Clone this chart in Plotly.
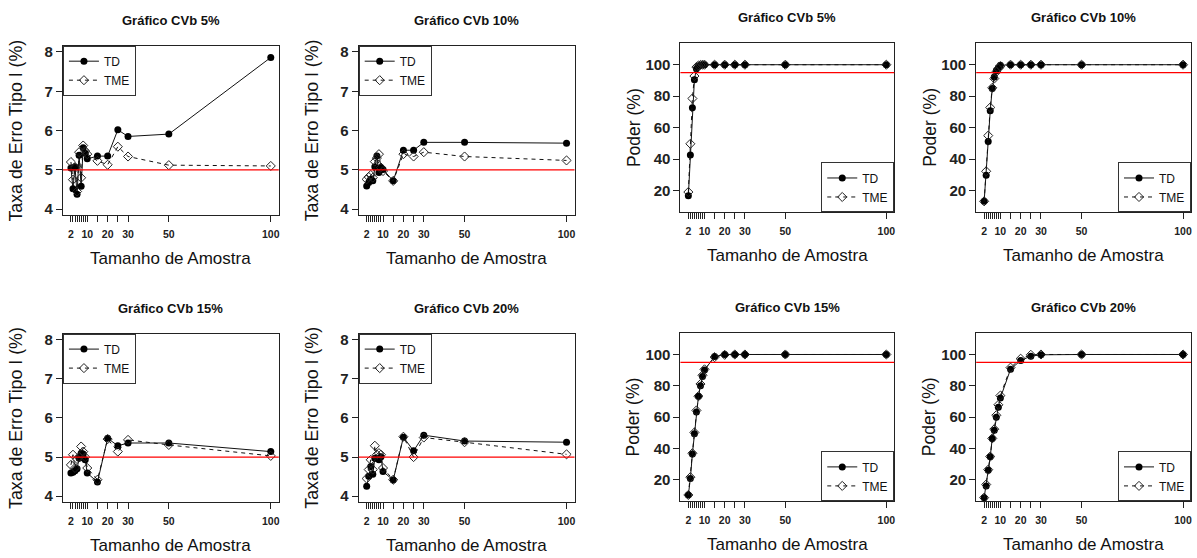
import plotly.graph_objects as go

# ---------------- data ----------------
n = [2, 3, 4, 5, 6, 7, 8, 9, 10, 15, 20, 25, 30, 50, 100]
x_tick_vals = [2, 3, 4, 5, 6, 7, 8, 9, 10, 15, 20, 25, 30, 50, 100]
x_tick_text = ["2", "", "", "", "", "", "", "", "10", "", "20", "", "30", "50", "100"]
err_ticks = [4, 5, 6, 7, 8]
pow_ticks = [20, 40, 60, 80, 100]
err_ref = 5
pow_ref = 95

err5_td = [5.05, 4.52, 5.08, 4.38, 5.37, 4.58, 5.56, 5.42, 5.28, 5.35, 5.35, 6.02, 5.85, 5.91, 7.86]
err5_tme = [5.20, 4.75, 5.05, 4.45, 5.45, 4.80, 5.62, 5.48, 5.40, 5.23, 5.13, 5.59, 5.34, 5.12, 5.10]
err10_td = [4.59, 4.68, 4.76, 4.72, 5.08, 5.35, 4.93, 5.06, 5.01, 4.72, 5.50, 5.50, 5.70, 5.70, 5.68]
err10_tme = [4.76, 4.82, 4.87, 4.80, 5.21, 5.30, 5.40, 5.06, 4.97, 4.72, 5.40, 5.34, 5.45, 5.34, 5.24]
err15_td = [4.59, 4.61, 4.65, 4.70, 4.97, 5.10, 5.08, 4.93, 4.59, 4.36, 5.48, 5.29, 5.36, 5.36, 5.14]
err15_tme = [4.80, 5.06, 4.72, 4.95, 5.00, 5.27, 5.14, 5.00, 4.72, 4.42, 5.46, 5.14, 5.44, 5.31, 5.03]
err20_td = [4.25, 4.51, 4.76, 4.56, 4.97, 4.97, 4.93, 5.01, 4.63, 4.41, 5.51, 5.16, 5.56, 5.41, 5.38]
err20_tme = [4.45, 4.68, 4.93, 4.68, 5.29, 5.06, 5.10, 5.06, 4.72, 4.42, 5.52, 5.00, 5.50, 5.38, 5.07]

pow5_td = [16.6, 42.5, 72.6, 90.5, 97.5, 99.2, 99.6, 99.9, 100, 100, 100, 100, 100, 100, 100]
pow5_tme = [19.0, 49.7, 78.5, 92.8, 98.5, 99.5, 99.8, 100, 100, 100, 100, 100, 100, 100, 100]
pow10_td = [13.1, 29.7, 51.2, 70.7, 84.8, 92.2, 96.2, 98.3, 99.6, 100, 100, 100, 100, 100, 100]
pow10_tme = [13.1, 32.2, 54.9, 72.8, 85.3, 91.2, 95.4, 97.6, 99.0, 100, 100, 100, 100, 100, 100]
pow15_td = [10.1, 20.6, 36.4, 49.3, 63.2, 73.3, 80.0, 85.9, 90.1, 98.7, 100, 100, 100, 100, 100]
pow15_tme = [10.1, 21.5, 36.8, 50.1, 64.2, 73.3, 81.1, 86.7, 90.5, 98.3, 99.8, 100, 100, 100, 100]
pow20_td = [8.4, 15.8, 25.9, 34.5, 46.3, 51.6, 59.8, 66.3, 72.2, 90.5, 96.2, 98.9, 99.8, 100, 100]
pow20_tme = [8.4, 16.8, 26.3, 34.7, 46.3, 52.2, 61.1, 67.8, 73.7, 91.6, 97.3, 99.8, 100, 100, 100]

titles = ["Gráfico CVb 5%", "Gráfico CVb 10%", "Gráfico CVb 5%", "Gráfico CVb 10%",
          "Gráfico CVb 15%", "Gráfico CVb 20%", "Gráfico CVb 15%", "Gráfico CVb 20%"]
kinds = ["err", "err", "pow", "pow", "err", "err", "pow", "pow"]
td_series = [err5_td, err10_td, pow5_td, pow10_td, err15_td, err20_td, pow15_td, pow20_td]
tme_series = [err5_tme, err10_tme, pow5_tme, pow10_tme, err15_tme, err20_tme, pow15_tme, pow20_tme]

# ---------------- layout ----------------
W, H = 1197, 558
FONT = "Liberation Sans, Arial, sans-serif"
# plot boxes in pixels: left, right, top, bottom
boxes = [(63, 279, 44, 215), (359, 575, 44, 215), (681, 895, 41, 212), (977, 1192, 41, 212),
         (63, 279, 334, 504), (359, 575, 334, 504), (681, 895, 333, 503), (977, 1192, 333, 503)]

def px(x):
    return x / W

def py(y):
    return 1 - y / H

fig = go.Figure()
annotations = []
shapes = []
layout = {}

for i in range(8):
    k = i + 1
    sx = "" if k == 1 else str(k)
    xa, ya = "x" + sx, "y" + sx
    lg = "legend" + sx
    l, r, t, b = boxes[i]
    kind = kinds[i]

    fig.add_trace(go.Scatter(
        x=n, y=td_series[i], mode="lines+markers", name="TD",
        line=dict(color="#111111", width=1),
        marker=dict(symbol="circle", size=7, color="#000000"),
        xaxis=xa, yaxis=ya, legend=lg, cliponaxis=False))
    fig.add_trace(go.Scatter(
        x=n, y=tme_series[i], mode="lines+markers", name="TME",
        line=dict(color="#111111", width=1, dash="4px,4px"),
        marker=dict(symbol="diamond-open", size=7, color="#222222", line=dict(width=1)),
        xaxis=xa, yaxis=ya, legend=lg, cliponaxis=False))

    layout["xaxis" + sx] = dict(
        domain=[px(l), px(r)], anchor=ya, range=[-1.92, 103.92],
        tickmode="array", tickvals=x_tick_vals, ticktext=x_tick_text,
        ticks="outside", ticklen=6, tickwidth=1, tickcolor="#222",
        showline=True, linecolor="#222", linewidth=1, mirror=True,
        showgrid=False, zeroline=False,
        tickfont=dict(family=FONT, size=10.5, color="#222", weight="bold"),
        ticklabelstandoff=3)
    if kind == "err":
        yr, yt = [3.84, 8.16], err_ticks
    else:
        yr, yt = [6, 114], pow_ticks
    layout["yaxis" + sx] = dict(
        domain=[py(b), py(t)], anchor=xa, range=yr,
        tickmode="array", tickvals=yt,
        ticks="outside", ticklen=6, tickwidth=1, tickcolor="#222",
        showline=True, linecolor="#222", linewidth=1, mirror=True,
        showgrid=False, zeroline=False,
        tickfont=dict(family=FONT, size=15, color="#222", weight="bold"))

    if kind == "err":
        layout[lg] = dict(x=px(l), y=py(t), xanchor="left", yanchor="top",
                          xref="paper", yref="paper")
    else:
        layout[lg] = dict(x=px(r), y=py(b), xanchor="right", yanchor="bottom",
                          xref="paper", yref="paper")
    layout[lg].update(bgcolor="white", bordercolor="#333", borderwidth=1,
                      font=dict(family=FONT, size=12, color="#111"),
                      itemwidth=30, tracegroupgap=0)

    ref = err_ref if kind == "err" else pow_ref
    shapes.append(dict(type="line", xref=xa + " domain", yref=ya,
                       x0=0, x1=1, y0=ref, y1=ref,
                       line=dict(color="#FF0000", width=1.3)))

    cx = px((l + r) / 2)
    annotations.append(dict(text="<b>" + titles[i] + "</b>", x=cx, y=py(t - 25),
                            xref="paper", yref="paper", showarrow=False,
                            xanchor="center", yanchor="middle",
                            font=dict(family=FONT, size=13, color="#111")))
    annotations.append(dict(text="Tamanho de Amostra", x=cx, y=py(b + 43),
                            xref="paper", yref="paper", showarrow=False,
                            xanchor="center", yanchor="middle",
                            font=dict(family=FONT, size=17, color="#111")))
    if kind == "err":
        ytitle, ysize = "Taxa de Erro Tipo I (%)", 17.8
    else:
        ytitle, ysize = "Poder (%)", 17.5
    annotations.append(dict(text=ytitle, x=px(l - 47), y=py((t + b) / 2),
                            xref="paper", yref="paper", showarrow=False,
                            xanchor="center", yanchor="middle", textangle=-90,
                            font=dict(family=FONT, size=ysize, color="#111")))

fig.update_layout(
    width=W, height=H, margin=dict(l=0, r=0, t=0, b=0),
    paper_bgcolor="white", plot_bgcolor="white",
    showlegend=True, annotations=annotations, shapes=shapes,
    font=dict(family=FONT), **layout)

fig.write_html("out.html")
